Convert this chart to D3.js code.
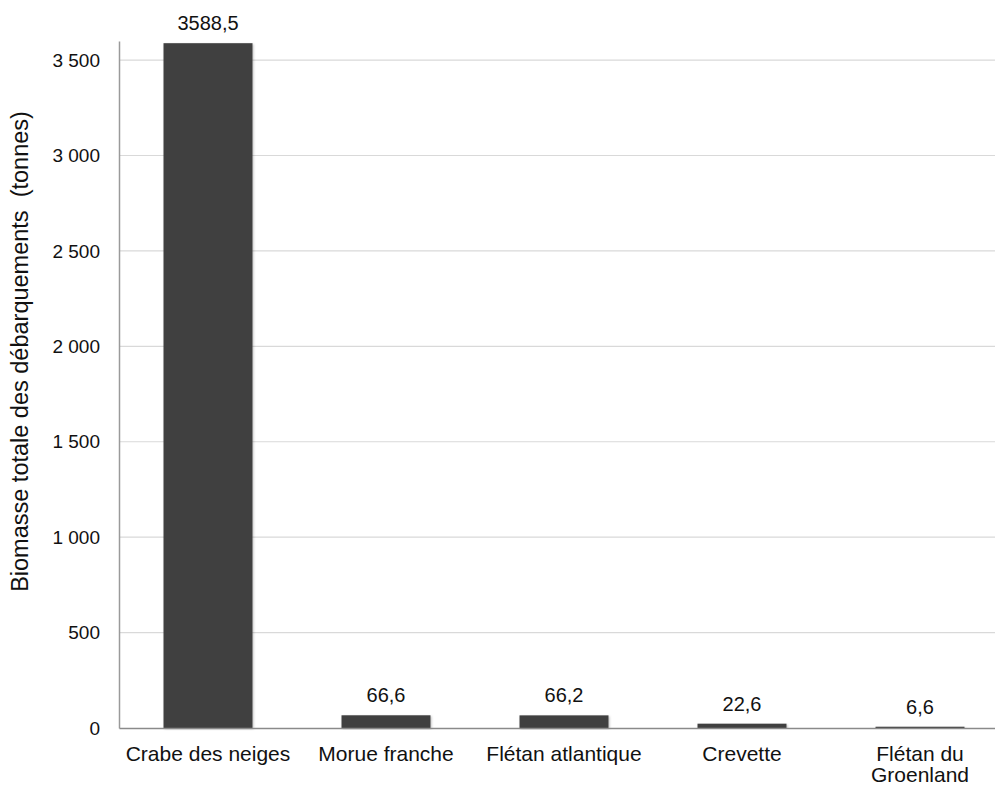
<!DOCTYPE html>
<html>
<head>
<meta charset="utf-8">
<script src="https://cdn.jsdelivr.net/npm/d3@7/dist/d3.min.js"></script>
<style>
  html, body { margin: 0; padding: 0; background: #fff; }
  svg { display: block; font-family: "Liberation Sans", Arial, Helvetica, sans-serif; }
</style>
</head>
<body>
<svg id="chart" width="995" height="787"></svg>
<script>
// Landings by species (tonnes)
const categories = ["Crabe des neiges", "Morue franche", "Flétan atlantique", "Crevette", "Flétan du Groenland"];
const landings = [3588.5, 66.6, 66.2, 22.6, 6.6];
const yTicks = [0, 500, 1000, 1500, 2000, 2500, 3000, 3500];
const yTitle = "Biomasse totale des débarquements  (tonnes)";

const fr = d3.formatLocale({ decimal: ",", thousands: "\u00a0", grouping: [3], currency: ["", " €"] });
const fmtTick = fr.format(",");
const fmtValue = fr.format(".1f");

const svg = d3.select("#chart");
const plotLeft = 119, plotRight = 1009, plotTop = 41, plotBottom = 728;

const x = d3.scaleBand().domain(categories).range([plotLeft, plotRight]).paddingInner(0.5).paddingOuter(0.25);
const y = d3.scaleLinear().domain([0, 3600]).range([plotBottom, plotTop]);

// soft shadow under the bars
const defs = svg.append("defs");
const f = defs.append("filter").attr("id", "shadow").attr("x", "-10%").attr("y", "-10%").attr("width", "120%").attr("height", "120%");
f.append("feDropShadow").attr("dx", 1).attr("dy", 1).attr("stdDeviation", 1.2)
  .attr("flood-color", "#000").attr("flood-opacity", 0.25);

// horizontal gridlines
svg.append("g")
  .selectAll("line")
  .data(yTicks.filter(d => d > 0))
  .join("line")
  .attr("x1", plotLeft).attr("x2", plotRight)
  .attr("y1", d => y(d)).attr("y2", d => y(d))
  .attr("stroke", "#d9d9d9").attr("stroke-width", 1.2);

// y axis
const yAxis = svg.append("g")
  .attr("transform", `translate(${plotLeft},0)`)
  .call(d3.axisLeft(y).tickValues(yTicks).tickFormat(fmtTick).tickSize(0).tickPadding(19));
yAxis.select(".domain").attr("stroke", "#9a9a9a").attr("stroke-width", 1.5);
yAxis.selectAll("text").attr("font-size", 19).attr("fill", "#111");
yAxis.attr("font-family", null);

// bars
svg.append("g")
  .selectAll("rect")
  .data(categories)
  .join("rect")
  .attr("x", d => x(d))
  .attr("width", x.bandwidth())
  .attr("y", (d, i) => y(landings[i]))
  .attr("height", (d, i) => y(0) - y(landings[i]))
  .attr("fill", "#404040")
  .attr("filter", "url(#shadow)");

// x axis
const xAxis = svg.append("g")
  .attr("transform", `translate(0,${plotBottom})`)
  .call(d3.axisBottom(x).tickSize(0).tickPadding(0).tickFormat(""));
xAxis.select(".domain").attr("stroke", "#8a8a8a").attr("stroke-width", 1.5);

// category labels (wrapped where needed)
const catLines = { "Flétan du Groenland": ["Flétan du", "Groenland"] };
svg.append("g")
  .selectAll("text")
  .data(categories)
  .join("text")
  .attr("x", d => x(d) + x.bandwidth() / 2)
  .attr("y", 761)
  .attr("text-anchor", "middle")
  .attr("font-size", 21)
  .attr("fill", "#111")
  .each(function (d) {
    const lines = catLines[d] || [d];
    d3.select(this).selectAll("tspan")
      .data(lines)
      .join("tspan")
      .attr("x", x(d) + x.bandwidth() / 2)
      .attr("dy", (l, j) => j === 0 ? 0 : 21)
      .text(l => l);
  });

// value labels
svg.append("g")
  .selectAll("text")
  .data(categories)
  .join("text")
  .attr("x", d => x(d) + x.bandwidth() / 2)
  .attr("y", (d, i) => y(landings[i]) - 13)
  .attr("text-anchor", "middle")
  .attr("font-size", 20)
  .attr("fill", "#111")
  .text((d, i) => fmtValue(landings[i]));

// y axis title
svg.append("text")
  .attr("transform", `translate(28,${(593 + 110) / 2}) rotate(-90)`)
  .attr("text-anchor", "middle")
  .attr("font-size", 23.5)
  .attr("fill", "#111")
  .style("white-space", "pre")
  .text(yTitle);
</script>
</body>
</html>
